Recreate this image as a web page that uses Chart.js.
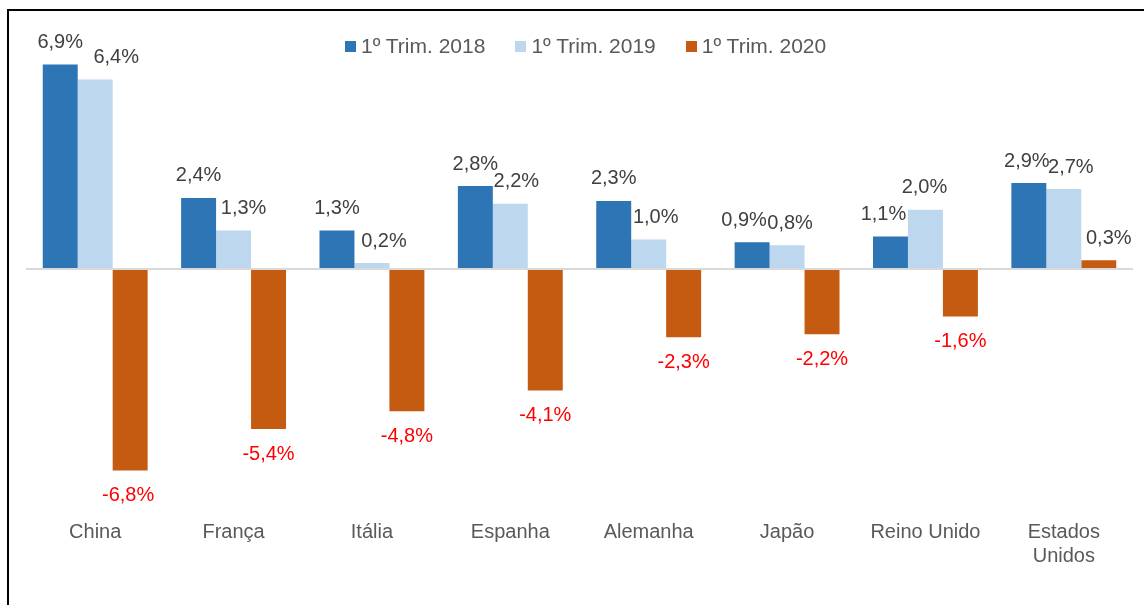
<!DOCTYPE html>
<html>
<head>
<meta charset="utf-8">
<script src="https://cdn.jsdelivr.net/npm/chart.js@4/dist/chart.umd.min.js"></script>
<style>
  html, body { margin: 0; padding: 0; background: #fff; }
  #wrap { position: relative; width: 1144px; height: 605px; overflow: hidden; }
  #frame { position: absolute; left: 7px; top: 9px; width: 1200px; height: 700px;
           border-left: 2px solid #000; border-top: 2px solid #000; }
  #legend { position: absolute; top: 34px; left: 345px; display: flex;
            font-family: "Liberation Sans", Arial, sans-serif; font-size: 21px; color: #595959; }
  #legend .item { display: flex; align-items: center; margin-right: 30px; }
  #legend .box { width: 11px; height: 11px; margin-right: 5px; }
  canvas { position: absolute; left: 0; top: 0; }
</style>
</head>
<body>
<div id="wrap">
  <div id="frame"></div>
  <canvas id="myChart" width="1144" height="605"></canvas>
  <div id="legend"></div>
</div>
<script>
// Values in %
const categories = ["China", "França", "Itália", "Espanha", "Alemanha", "Japão", "Reino Unido", ["Estados", "Unidos"]];
const seriesNames = ["1º Trim. 2018", "1º Trim. 2019", "1º Trim. 2020"];
const trim2018 = [6.9, 2.4, 1.3, 2.8, 2.3, 0.9, 1.1, 2.9];
const trim2019 = [6.4, 1.3, 0.2, 2.2, 1.0, 0.8, 2.0, 2.7];
const trim2020 = [-6.8, -5.4, -4.8, -4.1, -2.3, -2.2, -1.6, 0.3];

const colors = ["#2e75b6", "#bdd7ee", "#c55a11"];
// small horizontal nudges of the value labels (px), like the hand-placed labels in the original
const labelNudge = [
  [0, 0, 0, 0, 0, -8, -7, -2],
  [21, 10, 12, 6, 7, 3, -1, 7],
  [-2, 0, 0, 0, 0, 0, 0, 10],
];

const fmt = (v) => v.toFixed(1).replace(".", ",") + "%";

// legend
const legendEl = document.getElementById("legend");
seriesNames.forEach((name, i) => {
  const item = document.createElement("div");
  item.className = "item";
  item.innerHTML = '<span class="box" style="background:' + colors[i] + '"></span><span>' + name + "</span>";
  legendEl.appendChild(item);
});

// draws the value labels above / below bars
const valueLabels = {
  id: "valueLabels",
  afterDatasetsDraw(chart) {
    const ctx = chart.ctx;
    ctx.save();
    ctx.font = '20px "Liberation Sans", Arial, sans-serif';
    ctx.textAlign = "center";
    ctx.textBaseline = "middle";
    chart.data.datasets.forEach((ds, di) => {
      chart.getDatasetMeta(di).data.forEach((bar, i) => {
        const v = ds.data[i];
        const x = bar.x + labelNudge[di][i];
        if (v >= 0) {
          ctx.fillStyle = "#404040";
          ctx.fillText(fmt(v), x, bar.y - 22);
        } else {
          ctx.fillStyle = "#ff0000";
          ctx.fillText(fmt(v), x, bar.y + 25);
        }
      });
    });
    ctx.restore();
  },
};

const ctx1 = document.getElementById("myChart").getContext("2d");

new Chart(ctx1, {
  type: "bar",
  data: {
    labels: categories,
    datasets: [
      { label: seriesNames[0], data: trim2018, backgroundColor: colors[0] },
      { label: seriesNames[1], data: trim2019, backgroundColor: colors[1] },
      { label: seriesNames[2], data: trim2020, backgroundColor: colors[2] },
    ],
  },
  options: {
    responsive: false,
    animation: false,
    categoryPercentage: 0.758,
    barPercentage: 1,
    layout: { padding: { left: 26, right: 11, top: 32, bottom: 37 } },
    plugins: {
      legend: { display: false },
      tooltip: { enabled: false },
    },
    scales: {
      x: {
        grid: { display: false },
        border: { display: false },
        ticks: {
          color: "#595959",
          padding: 0,
          font: { family: '"Liberation Sans", Arial, sans-serif', size: 20 },
          maxRotation: 0,
        },
      },
      y: {
        min: -8.2,
        max: 8,
        afterFit: (scale) => { scale.width = 0; },
        border: { display: false },
        ticks: { display: false, stepSize: 1 },
        grid: {
          color: (c) => (c.tick && c.tick.value === 0 ? "#d9d9d9" : "rgba(0,0,0,0)"),
          lineWidth: 2,
          drawTicks: false,
        },
      },
    },
  },
  plugins: [valueLabels],
});
</script>
</body>
</html>
